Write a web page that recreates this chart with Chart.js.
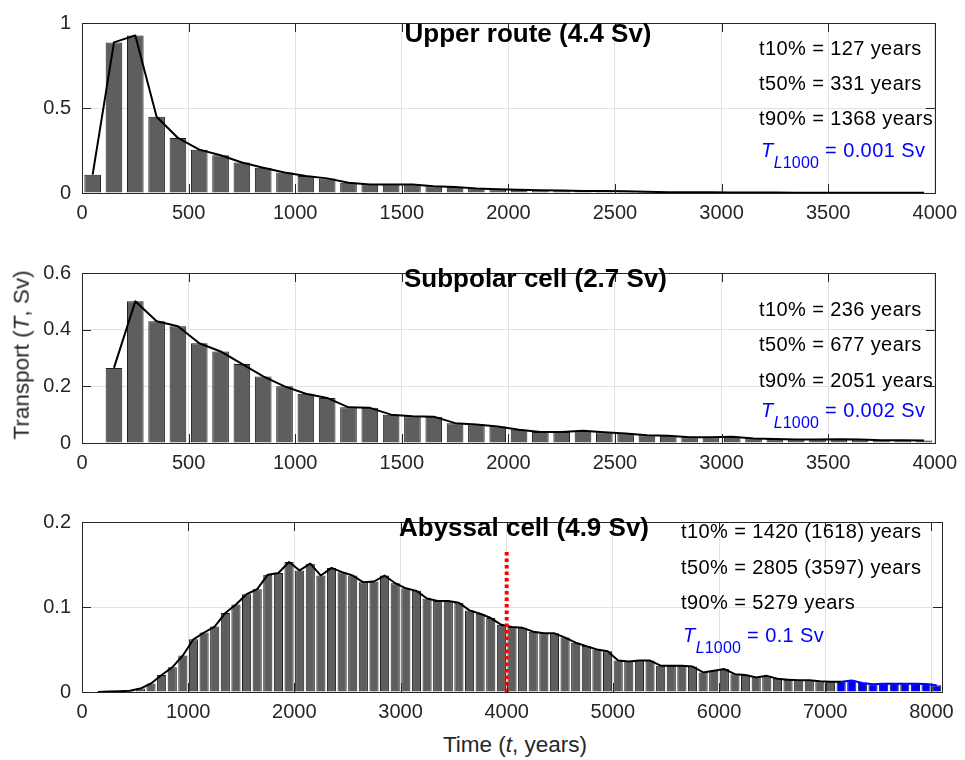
<!DOCTYPE html>
<html><head><meta charset="utf-8">
<script src="https://cdn.jsdelivr.net/npm/chart.js@4.4.0/dist/chart.umd.min.js"></script>
<style>
body{margin:0;background:#fff;}
#wrap{position:relative;width:965px;height:760px;overflow:hidden;font-family:'Liberation Sans',Arial,Helvetica,sans-serif;color:#000;}
canvas{position:absolute;left:0;}
.t{position:absolute;white-space:nowrap;line-height:1;font-size:20px;letter-spacing:0.4px;}
.ttl{position:absolute;white-space:nowrap;line-height:1;font-size:26px;font-weight:bold;transform:translateX(-50%);}
.blue{color:#0000ff;}
.sub{font-size:16px;position:relative;top:11px;letter-spacing:0.2px;}
.ax{position:absolute;white-space:nowrap;line-height:1;font-size:22.5px;color:#262626;}
</style></head><body>
<div id="wrap">
<canvas id="c1" width="965" height="228" style="top:0px"></canvas>
<canvas id="c2" width="965" height="228" style="top:250px"></canvas>
<canvas id="c3" width="965" height="228" style="top:499px"></canvas>

<div class="ttl" style="left:528px;top:19.7px">Upper route (4.4 Sv)</div>
<div class="t" style="left:759px;top:38px">t10% = 127 years</div>
<div class="t" style="left:759px;top:73px">t50% = 331 years</div>
<div class="t" style="left:759px;top:108px">t90% = 1368 years</div>
<div class="t blue" style="left:761px;top:139.5px"><i>T</i><span class="sub"><i>L</i>1000</span> = 0.001 Sv</div>

<div class="ttl" style="left:535.5px;top:265.3px">Subpolar cell (2.7 Sv)</div>
<div class="t" style="left:759px;top:299px">t10% = 236 years</div>
<div class="t" style="left:759px;top:334px">t50% = 677 years</div>
<div class="t" style="left:759px;top:369.5px">t90% = 2051 years</div>
<div class="t blue" style="left:761px;top:400px"><i>T</i><span class="sub"><i>L</i>1000</span> = 0.002 Sv</div>

<div class="ttl" style="left:524px;top:513.7px">Abyssal cell (4.9 Sv)</div>
<div class="t" style="left:681px;top:521px">t10% = 1420 (1618) years</div>
<div class="t" style="left:681px;top:556.5px">t50% = 2805 (3597) years</div>
<div class="t" style="left:681px;top:592px">t90% = 5279 years</div>
<div class="t blue" style="left:683px;top:625px"><i>T</i><span class="sub"><i>L</i>1000</span> = 0.1 Sv</div>

<div class="ax" style="left:515px;top:734px;transform:translateX(-50%)">Time (<i>t</i>, years)</div>
<div class="ax" style="left:22px;top:355px;transform:translate(-50%,-50%) rotate(-90deg)">Transport (<i>T</i>, Sv)</div>
</div>
<script>
// ---- data ----
const binTimes = [50,150,250,350,450,550,650,750,850,950,1050,1150,1250,1350,1450,1550,1650,1750,1850,1950,
  2050,2150,2250,2350,2450,2550,2650,2750,2850,2950,3050,3150,3250,3350,3450,3550,3650,3750,3850,3950];
const upperRoute = [0.108,0.886,0.927,0.449,0.324,0.255,0.222,0.179,0.149,0.121,
  0.100,0.086,0.060,0.050,0.050,0.050,0.040,0.035,0.027,0.022,
  0.019,0.016,0.014,0.012,0.012,0.010,0.007,0.005,0.004,0.004,
  0.003,0.003,0.003,0.002,0.002,0.002,0.002,0.001,0.001,0.001];
const subpolarCell = [null,0.265,0.500,0.430,0.412,0.352,0.323,0.279,0.235,0.200,
  0.174,0.159,0.126,0.124,0.100,0.094,0.093,0.070,0.065,0.058,
  0.047,0.039,0.039,0.043,0.038,0.0335,0.027,0.0257,0.020,0.020,
  0.022,0.0156,0.0145,0.0123,0.0123,0.0134,0.012,0.010,0.010,0.009];
const abyssalTimes = [50,150,250,350,450,550,650,750,850,950,1050,1150,1250,1350,1450,1550,1650,1750,1850,1950,
  2050,2150,2250,2350,2450,2550,2650,2750,2850,2950,3050,3150,3250,3350,3450,3550,3650,3750,3850,3950,
  4050,4150,4250,4350,4450,4550,4650,4750,4850,4950,5050,5150,5250,5350,5450,5550,5650,5750,5850,5950,
  6050,6150,6250,6350,6450,6550,6650,6750,6850,6950,7050,7150,7250,7350,7450,7550,7650,7750,7850,7950,8050];
const abyssalCell = [null,0,0.0005,0.001,0.0015,0.004,0.010,0.020,0.029,0.043,
  0.062,0.070,0.077,0.093,0.103,0.115,0.121,0.138,0.140,0.153,
  0.143,0.151,0.137,0.146,0.141,0.137,0.129,0.130,0.137,0.128,
  0.122,0.119,0.110,0.107,0.107,0.105,0.096,0.092,0.087,0.079,
  0.0765,0.0755,0.071,0.069,0.069,0.064,0.058,0.054,0.050,0.048,
  0.037,0.036,0.037,0.037,0.031,0.031,0.031,0.030,0.023,0.025,
  0.027,0.021,0.020,0.017,0.019,0.0155,0.0145,0.0137,0.0137,0.0126,
  0.012,0.012,0.0135,0.0107,0.009,0.0096,0.0096,0.0096,0.0096,0.0093,0.008];
const abyssalLeakStart = 7100;      // bins from here on are drawn blue
const abyssalMarkerTime = 4000;     // red dotted marker
const abyssalMarkerTop = 0.168;
const topXTicks = [0,500,1000,1500,2000,2500,3000,3500,4000];
const bottomXTicks = [0,1000,2000,3000,4000,5000,6000,7000,8000];
const upperYTicks = [0,0.5,1];
const subpolarYTicks = [0,0.2,0.4,0.6];
const abyssalYTicks = [0,0.1,0.2];

// ---- drawing ----
const FONT = {family:"'Liberation Sans', Arial, Helvetica, sans-serif", size:20};
const AXC = '#262626';
const framePlugin = {
  id:'frame',
  afterDraw(chart){
    const {ctx, chartArea:a, scales:{x,y}} = chart;
    ctx.save();
    ctx.strokeStyle = AXC; ctx.lineWidth = 1;
    ctx.beginPath();
    const L = 9;
    x.ticks.forEach(t=>{
      const px = Math.round(x.getPixelForValue(t.value))+0.5;
      if (px <= a.left+2 || px >= a.right-2) return;
      ctx.moveTo(px,a.bottom); ctx.lineTo(px,a.bottom-L);
      ctx.moveTo(px,a.top); ctx.lineTo(px,a.top+L);
    });
    y.ticks.forEach(t=>{
      const py = Math.round(y.getPixelForValue(t.value))+0.5;
      if (py <= a.top+2 || py >= a.bottom-2) return;
      ctx.moveTo(a.left,py); ctx.lineTo(a.left+L,py);
      ctx.moveTo(a.right,py); ctx.lineTo(a.right-L,py);
    });
    ctx.stroke();
    ctx.strokeRect(Math.round(a.left)+0.5, Math.round(a.top)+0.5, Math.round(a.right-a.left), Math.round(a.bottom-a.top));
    ctx.restore();
  }
};

function pts(xs, ys){ return xs.map((t,i)=>({x:t, y:ys[i]})); }

function panel(id, xs, ys, xTicks, xMax, yTicks, yMax, barPct, extra){
  const leak = extra && extra.leak !== undefined ? extra.leak : Infinity;
  const datasets = [
    {type:'line', data:pts(xs,ys), borderColor:'#000', borderWidth:2, pointRadius:0,
     tension:0, order:1, borderJoinStyle:'round',
     segment:{borderColor: c => c.p0.parsed.x >= leak ? '#0000ff' : '#000'}},
    {type:'bar', data:pts(xs,ys), grouped:false, barPercentage:barPct, categoryPercentage:1,
     backgroundColor: c => (c.raw && c.raw.x >= leak) ? '#0000ff' : '#5e5e5e',
     borderColor:'#1e1e1e', borderWidth:1, order:2}
  ];
  if (extra && extra.marker){
    datasets.unshift({type:'line', data:[{x:extra.marker.x,y:0},{x:extra.marker.x,y:extra.marker.top}],
      borderColor:'#ff0000', borderWidth:4, borderDash:[3.5,3], pointRadius:0, order:0});
  }
  return new Chart(document.getElementById(id), {
    type:'bar',
    data:{datasets},
    plugins:[framePlugin],
    options:{
      responsive:false, animation:false, devicePixelRatio:1,
      layout:{padding:{top:14,right:23,left:0,bottom:0}},
      plugins:{legend:{display:false}, tooltip:{enabled:false}},
      scales:{
        x:{type:'linear', min:0, max:xMax, offset:false,
           grid:{color:'#e2e2e2', drawTicks:false, offset:false}, border:{display:false},
           ticks:{padding:8, font:FONT, color:AXC, maxRotation:0, autoSkip:false, callback:v=>String(v)},
           afterBuildTicks:s=>{ s.ticks = xTicks.map(v=>({value:v})); },
           afterFit:s=>{ s.height = 35; }},
        y:{type:'linear', min:0, max:yMax,
           grid:{color:'#e2e2e2', drawTicks:false}, border:{display:false},
           ticks:{padding:11, font:FONT, color:AXC, callback:v=>String(v)},
           afterBuildTicks:s=>{ s.ticks = yTicks.map(v=>({value:v})); },
           afterFit:s=>{ s.width = 82; }}
      }
    }
  });
}

panel('c1', binTimes, upperRoute, topXTicks, 4000, upperYTicks, 1, 0.78);
panel('c2', binTimes, subpolarCell, topXTicks, 4000, subpolarYTicks, 0.6, 0.78);
panel('c3', abyssalTimes, abyssalCell, bottomXTicks, 8100, abyssalYTicks, 0.2, 0.86,
      {leak:abyssalLeakStart, marker:{x:abyssalMarkerTime, top:abyssalMarkerTop}});
</script>
</body></html>
